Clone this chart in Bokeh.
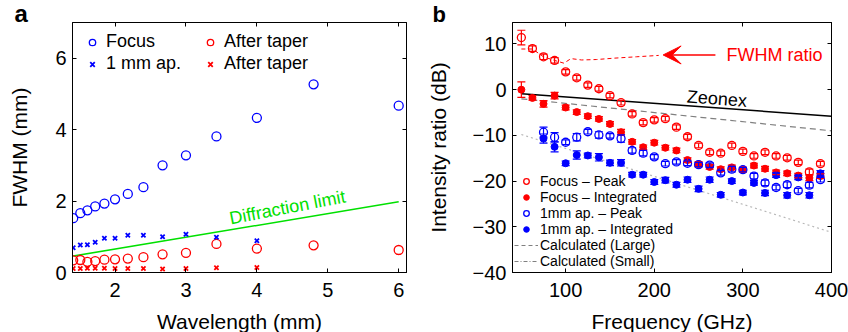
from bokeh.plotting import figure
from bokeh.models import (ColumnDataSource, Whisker, TeeHead, Arrow, VeeHead, Label,
                          Legend, LegendItem, LinearAxis, Range1d, FixedTicker)
from bokeh.layouts import row
from bokeh.embed import file_html
from bokeh.resources import INLINE

FONT = "Liberation Sans"
NAN = float("nan")

# ---------------- Panel a data ----------------
wavelength = [6.0, 4.8, 4.0, 3.43, 3.0, 2.67, 2.4, 2.18, 2.0, 1.85, 1.72, 1.61, 1.51, 1.41]
focus_fwhm = [4.67, 5.27, 4.33, 3.81, 3.28, 3.0, 2.39, 2.20, 2.05, 1.93, 1.85, 1.74, 1.66, 1.52]
focus_taper = [0.63, 0.76, 0.67, 0.80, 0.55, 0.51, 0.43, 0.39, 0.37, 0.36, 0.32, 0.30, 0.35, 0.34]
ap_wavelength = [4.0, 3.43, 3.0, 2.67, 2.4, 2.18, 2.0, 1.85, 1.72, 1.61, 1.51, 1.41]
ap_fwhm = [0.89, 0.99, 1.07, 1.00, 1.04, 1.04, 0.96, 0.96, 0.85, 0.78, 0.77, 0.69]
ap_taper = [0.14, 0.13, 0.11, 0.10, 0.11, 0.11, 0.11, 0.12, 0.12, 0.12, 0.11, 0.11]
diff_wl = [1.41, 6.0]
diff_fwhm = [0.46, 1.98]
a_xticks = [2, 3, 4, 5, 6]
a_yticks = [0, 2, 4, 6]

# ---------------- Panel b data ----------------
freq = [50, 62.5, 75, 87.5, 100, 112.5, 125, 137.5, 150, 162.5, 175, 187.5, 200, 212.5,
        225, 237.5, 250, 262.5, 275, 287.5, 300, 312.5, 325, 337.5, 350, 362.5, 375, 387.5]
focus_peak = [11.4, 9.0, 7.2, 6.4, 3.9, 2.6, 1.0, 0.2, -1.3, -2.85, -5.3, -7.2, -6.6, -6.35,
              -8.2, -10.3, -12.2, -13.7, -13.9, -12.2, -13.5, -14.5, -13.7, -14.5, -14.9, -15.9, -18.0, -16.2]
focus_peak_err = [1.6, 0.6, 0.6, 0.6, 0.5, 0.5, 0.5, 0.5, 0.5, 0.5, 0.5, 0.5, 0.5, 0.5,
                  0.5, 0.5, 0.5, 0.5, 0.5, 0.5, 0.5, 0.5, 0.5, 0.5, 0.5, 0.5, 0.6, 0.5]
focus_int = [0.0, -1.8, -3.1, -1.3, -3.9, -4.9, -5.8, -6.4, -7.5, -9.3, -11.4, -12.6, -11.6, -12.7,
             -13.3, -15.4, -16.3, -16.9, -17.4, -17.0, -17.5, -16.6, -17.3, -18.1, -18.3, -18.8, -19.3, -18.9]
focus_int_err = [1.7, 0.5, 0.7, 0.7, 0.5, 0.5, 0.5, 0.5, 0.5, 0.6, 0.5, 0.5, 0.5, 0.5,
                 0.5, 0.5, 0.5, 0.5, 0.5, 0.5, 0.5, 0.5, 0.5, 0.5, 0.5, 0.5, 0.6, 0.5]
ap_freq = freq[2:]
ap_peak = [-9.3, -10.4, -11.5, -10.4, -9.2, -9.9, -10.1, -10.7, -13.3, -13.9, -14.7, -16.2, -15.8,
           -16.1, -16.4, -16.5, -18.2, -17.4, -17.5, -18.9, -20.4, -21.4, -20.8, -22.1, -20.9, -19.7]
ap_peak_err = [1.1, 1.0, 0.5, 0.8, 0.5, 0.7, 0.5, 0.8, 0.6, 0.6, 0.5, 0.5, 0.5,
               0.5, 0.5, 0.5, 0.5, 0.6, 0.5, 0.6, 0.6, 0.5, 0.6, 0.5, 0.6, 0.5]
ap_int = [-10.7, -12.5, -16.1, -14.3, -14.4, -14.8, -16.0, -16.0, -18.6, -18.6, -20.2, -19.8, -20.8,
          -19.7, -21.7, -19.7, -23.0, -20.0, -22.5, -20.4, -22.6, -18.7, -23.1, -19.2, -23.1, -18.3]
ap_int_err = [1.0, 1.1, 0.5, 0.9, 0.5, 0.8, 0.6, 0.7, 0.5, 0.5, 0.5, 0.6, 0.5,
              0.6, 0.6, 0.6, 0.5, 0.5, 0.5, 0.5, 0.6, 0.5, 0.6, 0.5, 0.6, 0.6]
fwhm_ratio_f = [50, 62.5, 75, 87.5, 98, 106, 118, 135, 155, 180, 205]
fwhm_ratio_db = [8.9, 8.9, 7.2, 6.4, 5.8, 6.8, 6.5, 6.6, 6.9, 7.2, 7.5]
line_f = [50, 400]
zeonex_db = [-0.9, -5.8]
calc_large_db = [-2.0, -9.0]
calc_small_db = [-9.8, -31.2]
b_xticks = [100, 200, 300, 400]
b_yticks = [-40, -30, -20, -10, 0, 10]
b_ylabels = ["\u221240", "\u221230", "\u221220", "\u221210", "0", "10"]

RED = "#ff0000"
BLUE = "#0000ff"
GREEN = "#00e000"


def make_fig(xr, yr, fw, left, right, xticks, yticks, ylabels, xlabel, ylabel, ystand,
             panel, poff, pfs):
    p = figure(frame_width=fw, frame_height=250, x_range=Range1d(*xr), y_range=Range1d(*yr),
               output_backend="svg", toolbar_location=None,
               min_border_left=left, min_border_right=right, min_border_top=22, min_border_bottom=60)
    p.grid.visible = False
    p.outline_line_color = "black"
    p.outline_line_width = 1
    p.background_fill_color = "white"
    p.border_fill_color = "white"
    # panel letter as a left-aligned title
    p.title.text = panel
    p.title.align = "left"
    p.title.offset = poff
    p.title.standoff = -8
    p.title.text_font = FONT
    p.title.text_font_size = pfs
    p.title.text_font_style = "bold"
    p.title.text_color = "black"
    for ax in (p.xaxis[0], p.yaxis[0]):
        ax.major_tick_in = 4
        ax.major_tick_out = 0
        ax.minor_tick_line_color = None
        ax.axis_line_color = "black"
        ax.major_label_text_font = FONT
        ax.major_label_text_font_size = "20px"
        ax.major_label_text_color = "black"
        ax.axis_label_text_font = FONT
        ax.axis_label_text_font_size = "21px"
        ax.axis_label_text_font_style = "normal"
        ax.axis_label_text_color = "black"
    p.xaxis.ticker = FixedTicker(ticks=xticks)
    p.yaxis.ticker = FixedTicker(ticks=yticks)
    p.yaxis.major_label_overrides = {t: l for t, l in zip(yticks, ylabels)}
    p.xaxis.axis_label = xlabel
    p.yaxis.axis_label = ylabel
    p.xaxis.major_label_standoff = 10
    p.yaxis.major_label_standoff = 6
    p.xaxis.axis_label_standoff = 10
    p.yaxis.axis_label_standoff = ystand
    # box ticks on top and right
    top = LinearAxis(ticker=FixedTicker(ticks=xticks), major_tick_in=4, major_tick_out=0,
                     minor_tick_line_color=None, major_label_text_font_size="0px",
                     major_label_standoff=0, axis_line_color="black")
    right_ax = LinearAxis(ticker=FixedTicker(ticks=yticks), major_tick_in=4, major_tick_out=0,
                          minor_tick_line_color=None, major_label_text_font_size="0px",
                          major_label_standoff=0, axis_line_color="black")
    p.add_layout(top, "above")
    p.add_layout(right_ax, "right")
    return p


# ---------------- Panel a ----------------
pa = make_fig((1.40, 6.11), (0, 7), 334, 72, 14, a_xticks, a_yticks,
              [str(t) for t in a_yticks], "Wavelength (mm)", "FWHM (mm)", 21, "a", -58, "24px")

pa.line(diff_wl, diff_fwhm, line_color=GREEN, line_width=1.5)
r_fc = pa.scatter(wavelength, focus_fwhm, marker="circle", size=9, line_color=BLUE,
                  fill_color=None, line_width=1.3)
r_ft = pa.scatter(wavelength, focus_taper, marker="circle", size=9, line_color=RED,
                  fill_color=None, line_width=1.3)
r_ax = pa.scatter(ap_wavelength, ap_fwhm, marker="x", size=6, line_color=BLUE, line_width=1.8)
r_at = pa.scatter(ap_wavelength, ap_taper, marker="x", size=6, line_color=RED, line_width=1.8)

pa.add_layout(Label(x=4.43, y=1.82, text="Diffraction limit", text_color=GREEN,
                    text_font=FONT, text_font_size="18px", text_align="center",
                    text_baseline="middle", angle=0.19))


def legend(items, loc, fs, gw, gh, sp, standoff):
    return Legend(items=items, location=loc, border_line_color=None, background_fill_alpha=0,
                  padding=0, margin=0, spacing=sp, glyph_width=gw, glyph_height=gh,
                  label_height=gh, label_standoff=standoff, label_text_font=FONT,
                  label_text_font_size=fs, label_text_color="black", label_text_line_height=1.0)


pa.add_layout(legend([LegendItem(label="Focus", renderers=[r_fc]),
                      LegendItem(label="1 mm ap.", renderers=[r_ax])], (12, 198), "18px", 16, 20, 1, 6))
pa.add_layout(legend([LegendItem(label="After taper", renderers=[r_ft]),
                      LegendItem(label="After taper", renderers=[r_at])], (130, 198), "18px", 16, 20, 1, 6))

# ---------------- Panel b ----------------
pb = make_fig((40, 400), (-40, 14.7), 319, 92, 17, b_xticks, b_yticks, b_ylabels,
              "Frequency (GHz)", "Intensity ratio (dB)", 20, "b", -80, "22px")

pb.line(line_f, calc_small_db, line_color="#b8b8b8", line_width=1.2, line_dash="2 3")
pb.line(line_f, calc_large_db, line_color="#808080", line_width=1.2, line_dash="6 4")
pb.line(line_f, zeonex_db, line_color="black", line_width=1.5)
pb.line(fwhm_ratio_f, fwhm_ratio_db, line_color=RED, line_width=1.0, line_dash="4 3")
# legend-only line styles (no visible data)
r_small_leg = pb.line([NAN], [NAN], line_color="#808080", line_width=1.0, line_dash="4 2 1 2")
r_large_leg = pb.line([NAN], [NAN], line_color="#808080", line_width=1.0, line_dash="4 3")


def errbars(p, x, y, e, color):
    src = ColumnDataSource(dict(base=x, upper=[a + b for a, b in zip(y, e)],
                                lower=[a - b for a, b in zip(y, e)]))
    p.add_layout(Whisker(source=src, base="base", upper="upper", lower="lower",
                         line_color=color, line_width=1.2, level="glyph",
                         upper_head=TeeHead(size=8, line_color=color, line_width=1.2),
                         lower_head=TeeHead(size=8, line_color=color, line_width=1.2)))


errbars(pb, freq, focus_peak, focus_peak_err, RED)
errbars(pb, freq, focus_int, focus_int_err, RED)
errbars(pb, ap_freq, ap_peak, ap_peak_err, BLUE)
errbars(pb, ap_freq, ap_int, ap_int_err, BLUE)

r_fp = pb.scatter(freq, focus_peak, marker="circle", size=8, line_color=RED, fill_color=None, line_width=1.3)
r_fi = pb.scatter(freq, focus_int, marker="circle", size=7, line_color=RED, fill_color=RED, line_width=1)
r_ap = pb.scatter(ap_freq, ap_peak, marker="circle", size=8, line_color=BLUE, fill_color=None, line_width=1.3)
r_ai = pb.scatter(ap_freq, ap_int, marker="circle", size=7, line_color=BLUE, fill_color=BLUE, line_width=1)

pb.add_layout(Arrow(x_start=269, y_start=7.6, x_end=210, y_end=7.6, line_color=RED, line_width=1.5,
                    end=VeeHead(size=18, fill_color=RED, line_color=RED)))
pb.add_layout(Label(x=281.5, y=7.6, text="FWHM ratio", text_color=RED, text_font=FONT,
                    text_font_size="18px", text_baseline="middle", text_align="left"))
pb.add_layout(Label(x=237, y=-1.5, text="Zeonex", text_color="black", text_font=FONT,
                    text_font_size="18px", text_baseline="middle", text_align="left", angle=-0.075))

pb.add_layout(legend([LegendItem(label="Focus \u2013 Peak", renderers=[r_fp]),
                      LegendItem(label="Focus \u2013 Integrated", renderers=[r_fi]),
                      LegendItem(label="1mm ap. \u2013 Peak", renderers=[r_ap]),
                      LegendItem(label="1mm ap. \u2013 Integrated", renderers=[r_ai]),
                      LegendItem(label="Calculated (Large)", renderers=[r_large_leg]),
                      LegendItem(label="Calculated (Small)", renderers=[r_small_leg])],
                     (2, 3), "14px", 24, 14, 0, 2))

layout = row(pa, pb, spacing=0)
open("out.html", "w").write(file_html(layout, INLINE))
